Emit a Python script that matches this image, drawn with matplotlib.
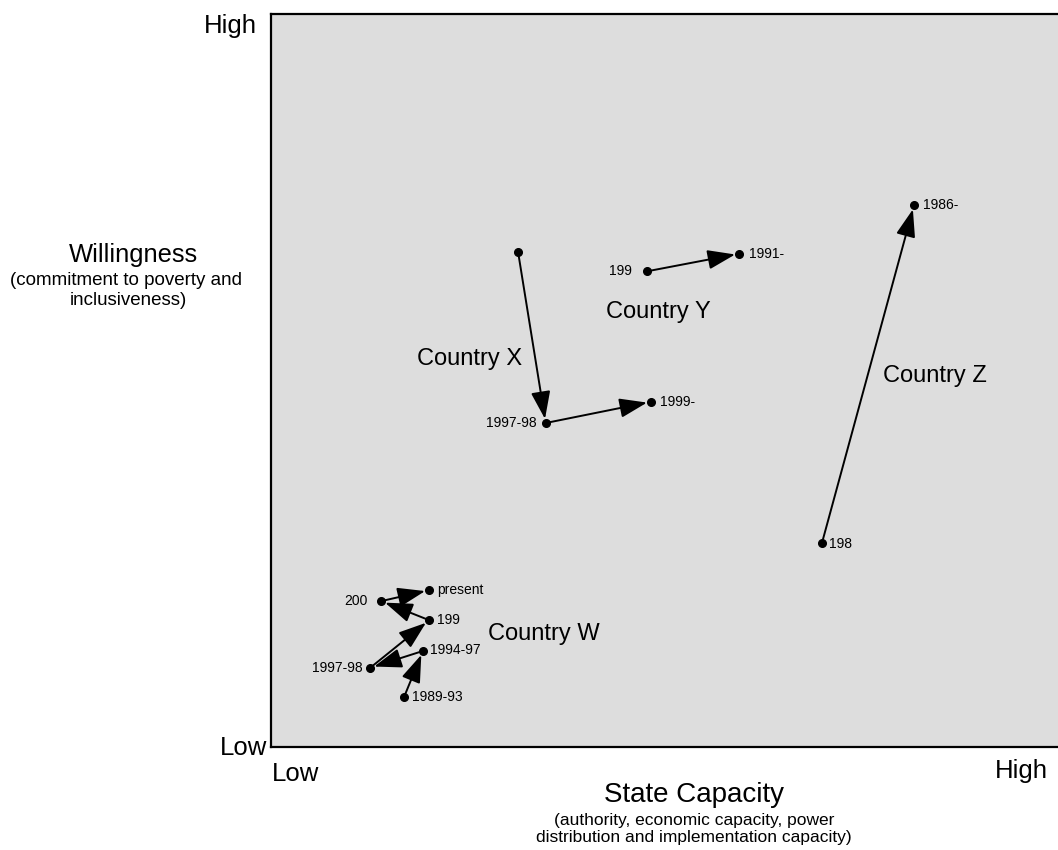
import matplotlib.pyplot as plt

plt.rcParams['font.family'] = ['Liberation Sans', 'DejaVu Sans']

# country paths: state capacity (x) vs willingness (y), 0-100 scale
w_x = [16.9, 19.3, 12.6, 20.1, 14.0, 20.1]
w_y = [6.8, 13.1, 10.8, 17.3, 19.9, 21.4]
w_labels = ['1989-93', '1994-97', '1997-98', '199', '200', 'present']

x_x = [31.4, 34.9, 48.3]
x_y = [67.5, 44.2, 47.1]
x_labels = ['', '1997-98', '1999-']

y_x = [47.8, 59.5]
y_y = [64.9, 67.3]
y_labels = ['199', '1991-']

z_x = [70.0, 81.7]
z_y = [27.8, 73.9]
z_labels = ['198', '1986-']

countries = ['Country W', 'Country X', 'Country Y', 'Country Z']
country_pos = [(34.7, 15.4), (25.2, 52.9), (49.2, 59.3), (84.4, 50.6)]

# label offsets in pixels (dx, dy), + means right / up
w_off = [(8, 0), (7, 1), (-8, 0), (8, 0), (-14, 0), (8, 0)]
x_off = [(0, 0), (-9, 0), (9, 0)]
y_off = [(-15, 0), (10, 0)]
z_off = [(7, -1), (9, 0)]

fig = plt.figure(figsize=(10.58, 8.5), dpi=100)
ax = fig.add_axes([271/1058, 103/850, 787/1058, 733/850])
ax.set_facecolor('#dddddd')
ax.set_xlim(0, 100)
ax.set_ylim(0, 100)
ax.set_xticks([])
ax.set_yticks([])
for side in ['left', 'top', 'bottom']:
    ax.spines[side].set_linewidth(1.6)
ax.spines['right'].set_visible(False)

arrow = dict(arrowstyle='-|>,head_length=0.85,head_width=0.3', mutation_scale=20,
             lw=1.4, color='black', shrinkA=0, shrinkB=3)


def draw_path(xs, ys, labels, offs):
    for i in range(len(xs) - 1):
        ax.annotate('', xy=(xs[i+1], ys[i+1]), xytext=(xs[i], ys[i]),
                    arrowprops=arrow)
    ax.plot(xs, ys, 'o', color='black', ms=5.5, ls='none', zorder=5)
    for xv, yv, lab, (dx, dy) in zip(xs, ys, labels, offs):
        if not lab:
            continue
        ax.annotate(lab, (xv, yv), xytext=(dx*0.72, dy*0.72), textcoords='offset points',
                    ha='left' if dx > 0 else 'right', va='center', fontsize=10)


draw_path(w_x, w_y, w_labels, w_off)
draw_path(x_x, x_y, x_labels, x_off)
draw_path(y_x, y_y, y_labels, y_off)
draw_path(z_x, z_y, z_labels, z_off)

for name, (cx, cy) in zip(countries, country_pos):
    ax.text(cx, cy, name, ha='center', va='center', fontsize=17)

# axis end labels
fig.text(257/1058, 1 - 33/850, 'High', ha='right', va='baseline', fontsize=18.5)
fig.text(267/1058, 1 - 755/850, 'Low', ha='right', va='baseline', fontsize=18.5)
fig.text(272/1058, 1 - 781/850, 'Low', ha='left', va='baseline', fontsize=18.5)
fig.text(1048/1058, 1 - 778/850, 'High', ha='right', va='baseline', fontsize=18.5)

# axis titles
fig.text(133/1058, 1 - 262/850, 'Willingness', ha='center', va='baseline', fontsize=18.4)
fig.text(126/1058, 1 - 285/850, '(commitment to poverty and', ha='center', va='baseline', fontsize=13.5)
fig.text(128/1058, 1 - 305/850, 'inclusiveness)', ha='center', va='baseline', fontsize=13.5)

fig.text(694/1058, 1 - 802/850, 'State Capacity', ha='center', va='baseline', fontsize=20)
fig.text(694/1058, 1 - 825/850, '(authority, economic capacity, power', ha='center', va='baseline', fontsize=12.5)
fig.text(694/1058, 1 - 842/850, 'distribution and implementation capacity)', ha='center', va='baseline', fontsize=12.5)

plt.savefig('out.png', dpi=100)
